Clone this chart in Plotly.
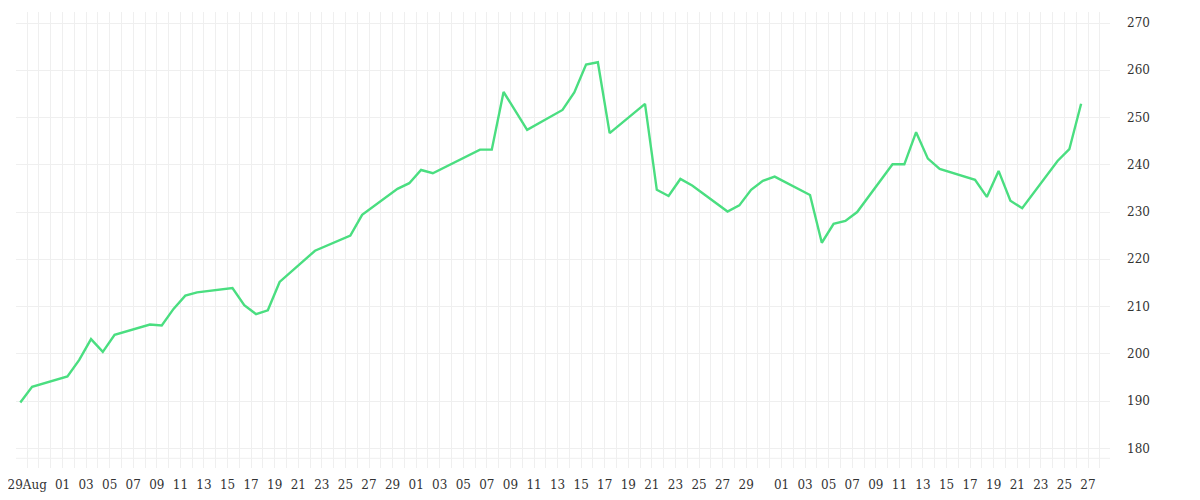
import pandas as pd
import plotly.graph_objects as go

# daily closes (some days missing, the line just joins them)
dates = [
    "2025-08-28", "2025-08-29",
    "2025-09-01", "2025-09-02", "2025-09-03", "2025-09-04", "2025-09-05",
    "2025-09-08", "2025-09-09", "2025-09-10", "2025-09-11", "2025-09-12",
    "2025-09-15", "2025-09-16", "2025-09-17", "2025-09-18", "2025-09-19",
    "2025-09-22", "2025-09-25", "2025-09-26",
    "2025-09-29", "2025-09-30", "2025-10-01", "2025-10-02",
    "2025-10-06", "2025-10-07", "2025-10-08", "2025-10-10",
    "2025-10-13", "2025-10-14", "2025-10-15", "2025-10-16", "2025-10-17",
    "2025-10-20", "2025-10-21", "2025-10-22", "2025-10-23", "2025-10-24",
    "2025-10-27", "2025-10-28", "2025-10-29", "2025-10-30", "2025-10-31",
    "2025-11-03", "2025-11-04", "2025-11-05", "2025-11-06", "2025-11-07",
    "2025-11-10", "2025-11-11", "2025-11-12", "2025-11-13", "2025-11-14",
    "2025-11-17", "2025-11-18", "2025-11-19", "2025-11-20", "2025-11-21",
    "2025-11-24", "2025-11-25", "2025-11-26",
]
prices = [
    189.7, 193.0,
    195.2, 198.7, 203.1, 200.4, 204.0,
    206.2, 206.0, 209.5, 212.3, 213.0,
    213.9, 210.3, 208.4, 209.2, 215.2,
    221.8, 225.0, 229.4,
    234.9, 236.1, 238.9, 238.2,
    243.2, 243.2, 255.4, 247.4,
    251.6, 255.3, 261.2, 261.7, 246.7,
    252.9, 234.7, 233.4, 237.0, 235.6,
    230.1, 231.4, 234.7, 236.6, 237.5,
    233.6, 223.5, 227.5, 228.1, 230.0,
    240.1, 240.1, 246.9, 241.3, 239.1,
    236.8, 233.2, 238.7, 232.4, 230.8,
    240.8, 243.3, 252.9,
]

# x tick labels (every other day, month name on the first one)
tick_dates = ["2025-08-29"] + \
    ["2025-09-%02d" % d for d in range(1, 30, 2)] + \
    ["2025-10-%02d" % d for d in range(1, 30, 2)] + \
    ["2025-11-%02d" % d for d in range(1, 28, 2)]
tick_text = ["29Aug"] + [t[-2:] for t in tick_dates[1:]]

# the day grid sits a bit ahead of the data points
shift = pd.Timedelta(hours=10)
tick_pos = [pd.Timestamp(t) - shift for t in tick_dates]

fig = go.Figure()
fig.add_trace(go.Scatter(
    x=pd.to_datetime(dates), y=prices,
    mode="lines",
    line=dict(color="#4ade80", width=2.4),
    hoverinfo="x+y",
))

fnt = dict(family="DejaVu Serif", size=12, color="#333333")
grid_col = "#efefef"

fig.update_layout(
    width=1200, height=500,
    margin=dict(l=8, r=98, t=4, b=40),
    paper_bgcolor="white",
    plot_bgcolor="white",
    showlegend=False,
    font=fnt,
    xaxis=dict(
        type="date",
        range=[pd.Timestamp("2025-08-27 15:14"), pd.Timestamp("2025-11-28 10:48")],
        tickmode="array",
        tickvals=tick_pos,
        ticktext=tick_text,
        showgrid=True, gridcolor=grid_col, gridwidth=1,
        minor=dict(showgrid=True, gridcolor=grid_col, gridwidth=1,
                   tick0=pd.Timestamp("2025-08-28") - shift, dtick=86400000),
        ticks="", showline=False, zeroline=False,
        ticklabelstandoff=8,
        ticklabeloverflow="allow",
        automargin=False,
        tickfont=fnt,
    ),
    yaxis=dict(
        side="right",
        range=[175.83, 272.33],
        tickvals=[180, 190, 200, 210, 220, 230, 240, 250, 260, 270],
        showgrid=True, gridcolor=grid_col, gridwidth=1,
        ticks="", showline=False, zeroline=False,
        ticklabelstandoff=16,
        automargin=False,
        tickfont=fnt,
    ),
    shapes=[dict(type="line", xref="paper", yref="paper", x0=0, x1=1,
                 y0=0.0213, y1=0.0213, line=dict(color=grid_col, width=1),
                 layer="below")],
)

fig.write_html("out.html")
